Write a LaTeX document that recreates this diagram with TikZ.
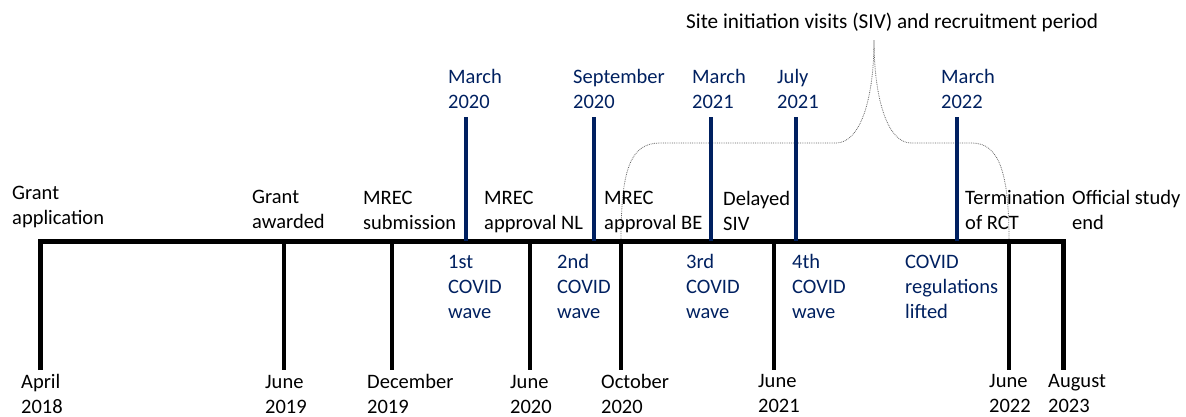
\documentclass[tikz,border=0pt]{standalone}
\usepackage{fontspec}
\setmainfont{Carlito}
\definecolor{navy}{RGB}{0,32,96}
\tikzset{
  lbl/.style={anchor=base west, inner sep=0pt, align=left, font=\fontsize{20.5}{25}\selectfont},
  blk/.style={lbl, text=black},
  blu/.style={lbl, text=navy},
  mainln/.style={line width=5pt, line join=miter, black},
  btick/.style={line width=4pt, black},
  utick/.style={line width=3.5pt, navy},
  brace/.style={densely dotted, line width=0.8pt, black!60},
}
\begin{document}
\begin{tikzpicture}[x=1pt,y=-1pt]
\useasboundingbox (0,0) rectangle (1186,416);
% tick coordinates
\foreach \n/\x in {a/40,b/284,c/392,d/530,e/621,f/774,g/1009,h/1063}{
  \coordinate (t\n) at (\x,241);
  \coordinate (d\n) at (\x,370);
}
\foreach \n/\x in {p/466,q/594,r/711,s/796,u/957}{
  \coordinate (m\n) at (\x,241);
  \coordinate (u\n) at (\x,117);
}
% brace
\coordinate (bl1) at (660,143);
\coordinate (bl2) at (836,143);
\coordinate (tip) at (874,40);
\coordinate (br1) at (911,143);
\coordinate (br2) at (972,143);
\draw[brace] (te) .. controls (621,170) and (630,143) .. (bl1) -- (bl2)
  .. controls (860,143) and (874,100) .. (tip)
  .. controls (874,100) and (888,143) .. (br1) -- (br2)
  .. controls (1000,143) and (1009,175) .. (tg);
% main line
\draw[mainln] (da) -- (ta) -- (th) -- (dh);
\foreach \n in {b,c,d,e,f,g}{ \draw[btick] (t\n) -- (d\n); }
\foreach \n in {p,q,r,s,u}{ \draw[utick] (m\n) -- (u\n); }
% title
\node[blk, font=\fontsize{21.2}{25}\selectfont] (title) at (686,28) {Site initiation visits (SIV) and recruitment period};
% black labels above (anchor = baseline of last line)
\node[blk] (l1) at (12,224) {Grant\\application};
\node[blk] (l2) at (252,228) {Grant\\awarded};
\node[blk] (l3) at (363,229) {MREC\\submission};
\node[blk] (l4) at (484,229) {MREC\\approval NL};
\node[blk] (l5) at (604,229) {MREC\\approval BE};
\node[blk] (l6) at (723,230) {Delayed\\SIV};
\node[blk] (l7) at (965,229) {Termination\\of RCT};
\node[blk] (l8) at (1072,229) {Official study\\end};
% blue dates above
\node[blu] (u1) at (448,108) {March\\2020};
\node[blu] (u2) at (573,108) {September\\2020};
\node[blu] (u3) at (692,108) {March\\2021};
\node[blu] (u4) at (777,108) {July\\2021};
\node[blu] (u5) at (941,108) {March\\2022};
% blue labels below
\node[blu] (w1) at (448,318) {1st\\COVID\\wave};
\node[blu] (w2) at (557,318) {2nd\\COVID\\wave};
\node[blu] (w3) at (686,318) {3rd\\COVID\\wave};
\node[blu] (w4) at (792,318) {4th\\COVID\\wave};
\node[blu] (w5) at (905,318) {COVID\\regulations\\lifted};
% dates below
\node[blk] (d1) at (21,413) {April\\2018};
\node[blk] (d2) at (265,413) {June\\2019};
\node[blk] (d3) at (367,413) {December\\2019};
\node[blk] (d4) at (510,413) {June\\2020};
\node[blk] (d5) at (601,413) {October\\2020};
\node[blk] (d6) at (758,412) {June\\2021};
\node[blk] (d7) at (989,412) {June\\2022};
\node[blk] (d8) at (1048,412) {August\\2023};
\end{tikzpicture}
\end{document}
